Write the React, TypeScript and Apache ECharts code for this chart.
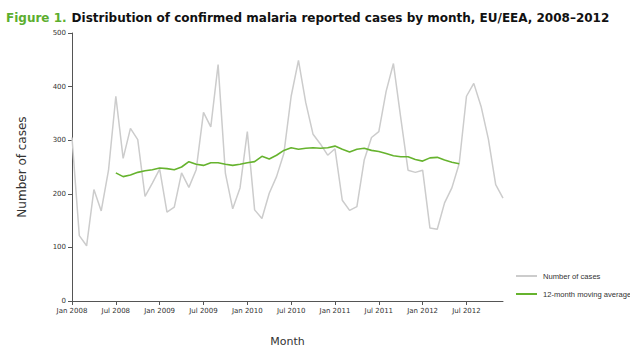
import React, { useEffect, useRef } from "react";
import * as echarts from "echarts";

const monthNames = ["Jan", "Feb", "Mar", "Apr", "May", "Jun", "Jul", "Aug", "Sep", "Oct", "Nov", "Dec"];
const years = [2008, 2009, 2010, 2011, 2012];
const months: string[] = [];
years.forEach((y) => monthNames.forEach((m) => months.push(`${m} ${y}`)));

const cases = [
  305, 122, 103, 208, 168, 244, 382, 266, 322, 301, 195, 220,
  246, 166, 175, 239, 212, 245, 352, 325, 441, 238, 172, 211,
  316, 170, 154, 201, 232, 275, 382, 449, 370, 311, 293, 272,
  284, 188, 169, 176, 263, 305, 316, 391, 443, 342, 244, 240,
  244, 136, 134, 183, 211, 256, 382, 406, 363, 302, 217, 192,
];

const movingAverage = [
  null, null, null, null, null, null, 239, 232, 235, 240, 243, 245,
  248, 247, 245, 250, 260, 255, 253, 258, 258, 255, 253, 255,
  258, 260, 270, 265, 272, 281, 286, 283, 285, 286, 285, 286,
  289, 283, 278, 283, 285, 281, 279, 275, 271, 269, 269, 264,
  261, 267, 268, 263, 259, 256, null, null, null, null, null, null,
];

const yTicks = [0, 100, 200, 300, 400, 500];

const FONT = "DejaVu Sans";
const SMALL = "Liberation Sans";

export default function App() {
  const ref = useRef<HTMLDivElement>(null);
  useEffect(() => {
    if (!ref.current) return;
    document.body.style.margin = "0";
    const chart = echarts.init(ref.current, undefined, { renderer: "svg" });
    chart.setOption({
      animation: false,
      backgroundColor: "#ffffff",
      title: {
        text: "{g|Figure 1.} {b|Distribution of confirmed malaria reported cases by month, EU/EEA, 2008\u20132012}",
        left: 1,
        top: 4,
        textStyle: {
          rich: {
            g: { color: "#5cae2e", fontSize: 12, fontWeight: "bold", fontFamily: FONT },
            b: { color: "#111111", fontSize: 12, fontWeight: "bold", fontFamily: FONT },
          },
        },
      },
      legend: {
        orient: "vertical",
        left: 511,
        top: 267,
        itemWidth: 21,
        itemHeight: 2,
        itemGap: 10,
        icon: "rect",
        textStyle: { fontSize: 7.6, color: "#333", fontFamily: SMALL, padding: [0, 0, 0, 1] },
        data: ["Number of cases", "12-month moving average"],
      },
      grid: { left: 72, right: 127, top: 33, bottom: 45, containLabel: false },
      xAxis: {
        type: "category",
        data: months,
        boundaryGap: false,
        name: "Month",
        nameLocation: "middle",
        nameGap: 35,
        nameTextStyle: { fontSize: 11, color: "#333", fontFamily: FONT },
        axisLine: { lineStyle: { color: "#555", width: 1 } },
        axisTick: { interval: 5, length: 4, lineStyle: { color: "#555" } },
        axisLabel: { interval: 5, fontSize: 7, color: "#333", margin: 6, fontFamily: FONT },
      },
      yAxis: {
        type: "value",
        min: yTicks[0],
        max: yTicks[yTicks.length - 1],
        interval: 100,
        name: "Number of cases",
        nameLocation: "middle",
        nameGap: 44,
        nameTextStyle: { fontSize: 12, color: "#333", fontFamily: FONT },
        axisLine: { show: true, lineStyle: { color: "#555", width: 1 } },
        axisTick: { show: true, length: 4, lineStyle: { color: "#555" } },
        axisLabel: { fontSize: 7, color: "#333", margin: 6, fontFamily: FONT },
        splitLine: { show: false },
      },
      series: [
        {
          name: "Number of cases",
          type: "line",
          data: cases,
          symbol: "none",
          lineStyle: { color: "#cccccc", width: 1.5 },
          itemStyle: { color: "#cccccc" },
        },
        {
          name: "12-month moving average",
          type: "line",
          data: movingAverage,
          symbol: "none",
          connectNulls: false,
          lineStyle: { color: "#66b32e", width: 1.6 },
          itemStyle: { color: "#66b32e" },
        },
      ],
    });
    return () => chart.dispose();
  }, []);
  return <div ref={ref} style={{ width: 630, height: 352 }} />;
}
